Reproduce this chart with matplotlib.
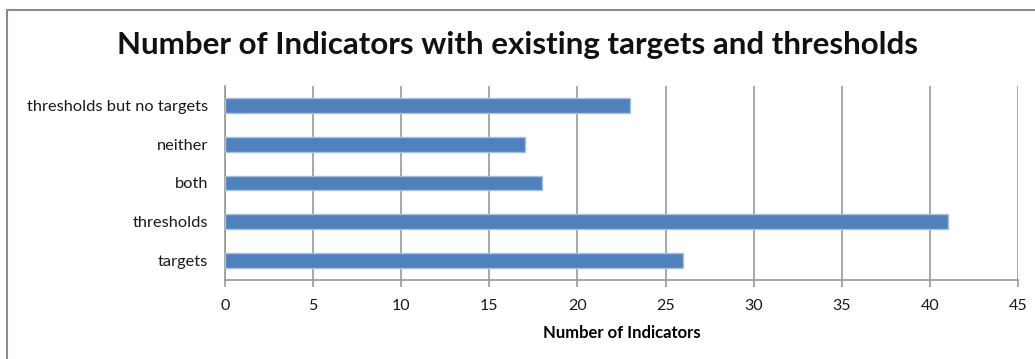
import matplotlib
matplotlib.use("Agg")
import matplotlib.pyplot as plt
from matplotlib.lines import Line2D

categories = ["targets", "thresholds", "both", "neither", "thresholds but no targets"]
counts = [26, 41, 18, 17, 23]
x_ticks = [0, 5, 10, 15, 20, 25, 30, 35, 40, 45]

plt.rcParams["font.family"] = ["Lato", "DejaVu Sans"]

fig = plt.figure(figsize=(10.35, 3.59), dpi=100)
ax = fig.add_axes([225 / 1035, 1 - 280 / 359, (1018 - 225) / 1035, (280 - 86) / 359])

ypos = list(range(len(categories)))
ax.barh(ypos, counts, height=0.38, color="#4F81BD", edgecolor="#A7C0DE",
        linewidth=1.0, zorder=3)

ax.set_xlim(0, 45)
ax.set_ylim(-0.5, len(categories) - 0.5)
ax.set_xticks(x_ticks)
ax.set_xticklabels([str(t) for t in x_ticks], fontsize=11.5, color="#1a1a1a")
ax.set_yticks(ypos)
ax.set_yticklabels(categories, fontsize=11.8, color="#1a1a1a")

ax.grid(axis="x", color="#9a9a9a", linewidth=1.2, zorder=0)
ax.set_axisbelow(True)
for side in ("top", "right"):
    ax.spines[side].set_visible(False)
for side in ("left", "bottom"):
    ax.spines[side].set_color("#9a9a9a")
    ax.spines[side].set_linewidth(1.2)
ax.tick_params(axis="x", direction="out", length=5, width=1.2, color="#9a9a9a", pad=9)
ax.tick_params(axis="y", length=0, pad=12)

ax.set_xlabel("Number of Indicators", fontsize=12, fontweight="bold", labelpad=8)

fig.text(0.5, 1 - 45 / 359, "Number of Indicators with existing targets and thresholds",
         ha="center", va="center", fontsize=22.5, fontweight="bold", color="#111111")

# outer chart frame (top and left edges)
fig.add_artist(Line2D([7 / 1035, 1.0], [1 - 10 / 359, 1 - 10 / 359],
                      transform=fig.transFigure, color="#8c8c8c", linewidth=1.5))
fig.add_artist(Line2D([7 / 1035, 7 / 1035], [0.0, 1 - 10 / 359],
                      transform=fig.transFigure, color="#8c8c8c", linewidth=1.5))

fig.savefig("out.png", dpi=100)
